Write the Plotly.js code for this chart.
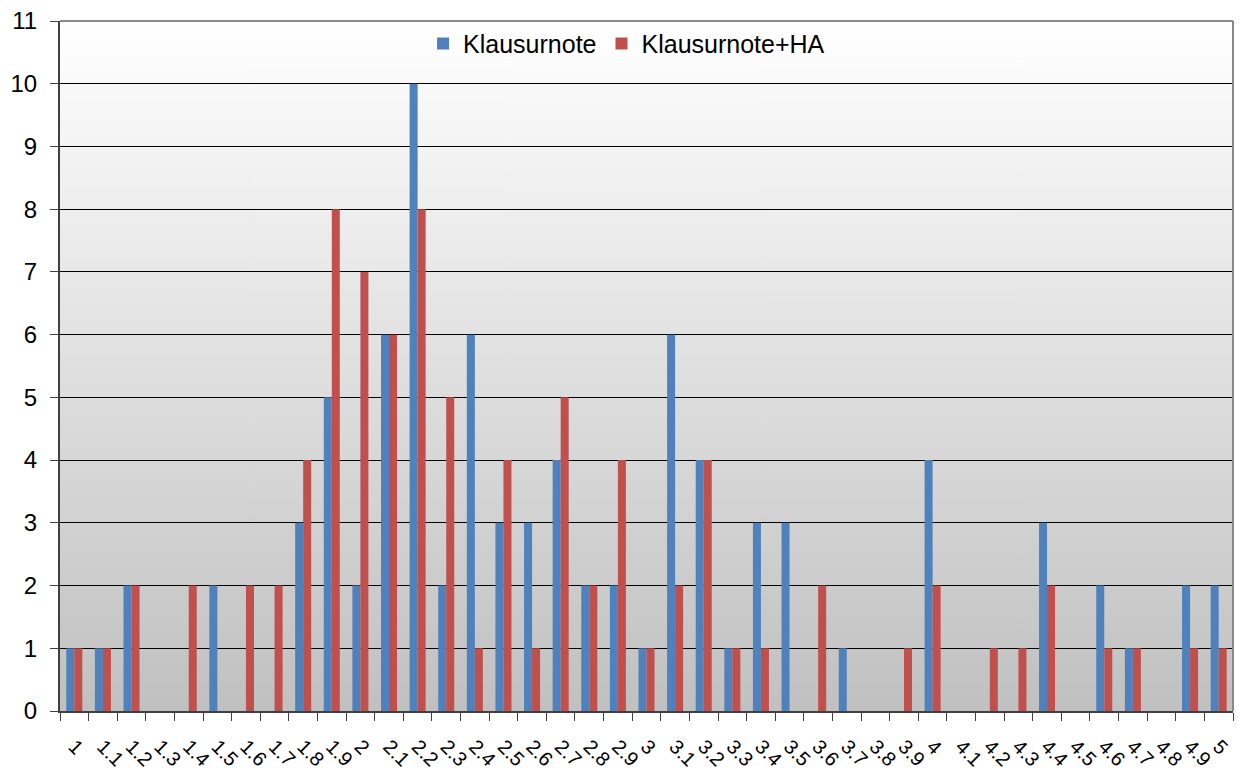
<!DOCTYPE html>
<html>
<head>
<meta charset="utf-8">
<script src="https://cdn.plot.ly/plotly-3.0.1.min.js"></script>
<style>html,body{margin:0;padding:0;background:#fff;}#chart{width:1240px;height:774px;}</style>
</head>
<body>
<div id="chart"></div>
<script>
const categories = ["1","1.1","1.2","1.3","1.4","1.5","1.6","1.7","1.8","1.9",
  "2","2.1","2.2","2.3","2.4","2.5","2.6","2.7","2.8","2.9",
  "3","3.1","3.2","3.3","3.4","3.5","3.6","3.7","3.8","3.9",
  "4","4.1","4.2","4.3","4.4","4.5","4.6","4.7","4.8","4.9","5"];
const klausurnote = [1,1,2,0,0,2,0,0,3,5,
  2,6,10,2,6,3,3,4,2,2,
  1,6,4,1,3,3,0,1,0,0,
  4,0,0,0,3,0,2,1,0,2,2];
const klausurnoteHA = [1,1,2,0,2,0,2,2,4,8,
  7,6,8,5,1,4,1,5,2,4,
  1,2,4,1,1,0,2,0,0,1,
  2,0,1,1,2,0,1,1,0,1,1];
const seriesNames = ["Klausurnote","Klausurnote+HA"];
const yTicks = [0,1,2,3,4,5,6,7,8,9,10,11];

const svg = '<svg xmlns="http://www.w3.org/2000/svg" width="10" height="100" preserveAspectRatio="none">' +
  '<defs><linearGradient id="g" x1="0" y1="0" x2="0" y2="1">' +
  '<stop offset="0" stop-color="#ffffff"/><stop offset="1" stop-color="#c0c0c0"/>' +
  '</linearGradient></defs><rect width="10" height="100" fill="url(#g)"/></svg>';
const bgSrc = 'data:image/svg+xml;charset=utf-8,' + encodeURIComponent(svg);

const traces = [
  {type:'bar', name:seriesNames[0], x:categories, y:klausurnote, marker:{color:'#4F81BD'}},
  {type:'bar', name:seriesNames[1], x:categories, y:klausurnoteHA, marker:{color:'#C0504D'}}
];

const layout = {
  width:1240, height:774,
  margin:{l:60, r:7, t:21, b:63},
  paper_bgcolor:'#ffffff',
  plot_bgcolor:'rgba(0,0,0,0)',
  font:{family:'Liberation Sans, Arial, sans-serif', color:'#000'},
  barmode:'group', bargap:0.44, bargroupgap:0,
  showlegend:true,
  legend:{orientation:'h', x:0.483, xanchor:'center', y:0.967, yanchor:'middle',
    bgcolor:'rgba(0,0,0,0)', font:{size:25}, itemwidth:30, tracegroupgap:0},
  xaxis:{type:'category', tickangle:45, tickson:'boundaries', ticks:'outside', ticklen:8,
    tickcolor:'#404040', showline:true, linecolor:'#404040', linewidth:2,
    showgrid:false, tickfont:{size:20}, ticklabelstandoff:14, automargin:false},
  yaxis:{range:[0,11], tickvals:yTicks, ticks:'outside', ticklen:8, tickcolor:'#404040',
    showline:true, linecolor:'#404040', linewidth:2, showgrid:true, gridcolor:'#000000',
    gridwidth:1, zeroline:false, tickfont:{size:24}, ticklabelstandoff:8, automargin:false},
  images:[{source:bgSrc, xref:'paper', yref:'paper', x:0, y:1, sizex:1, sizey:1,
    sizing:'stretch', xanchor:'left', yanchor:'top', layer:'below'}],
  shapes:[
    {type:'line', xref:'paper', yref:'paper', x0:0, x1:1, y0:1, y1:1, line:{color:'#888888', width:2}},
    {type:'line', xref:'paper', yref:'paper', x0:1, x1:1, y0:0, y1:1, line:{color:'#888888', width:2}}
  ]
};

Plotly.newPlot('chart', traces, layout, {displayModeBar:false, staticPlot:true});
</script>
</body>
</html>
